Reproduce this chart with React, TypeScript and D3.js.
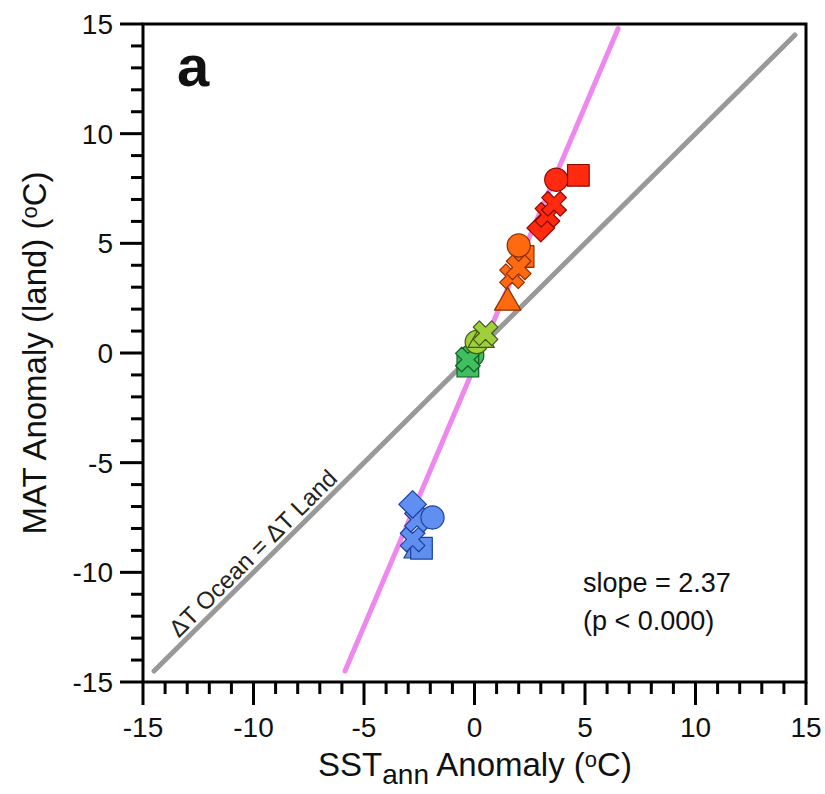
import React from "react";
import * as d3 from "d3";

// marker values: [shape, SST anomaly, MAT anomaly]
const blueCases: [string, number, number][] = [
  ["triangle", -2.6, -9.0],
  ["square", -2.4, -8.9],
  ["x", -2.8, -8.5],
  ["x", -2.6, -7.6],
  ["circle", -1.9, -7.5],
  ["diamond", -2.8, -6.9],
];
const greenCases: [string, number, number][] = [
  ["circle", -0.1, -0.1],
  ["square", -0.3, -0.6],
  ["x", -0.3, -0.3],
];
const limeCases: [string, number, number][] = [
  ["circle", 0.1, 0.5],
  ["triangle", 0.3, 0.6],
  ["x", 0.5, 0.9],
];
const orangeCases: [string, number, number][] = [
  ["triangle", 1.5, 2.3],
  ["square", 2.2, 4.4],
  ["circle", 2.0, 4.9],
  ["x", 1.7, 3.5],
  ["x", 2.0, 3.9],
];
const redCases: [string, number, number][] = [
  ["diamond", 3.0, 5.7],
  ["x", 3.3, 6.3],
  ["x", 3.6, 6.8],
  ["circle", 3.7, 7.9],
  ["square", 4.7, 8.1],
];

const groups = [
  { data: blueCases, fill: "#5f8ff0", stroke: "#1f3f9a" },
  { data: greenCases, fill: "#3fbf5f", stroke: "#145a25" },
  { data: limeCases, fill: "#9fcf3a", stroke: "#3f5a10" },
  { data: orangeCases, fill: "#ff6a10", stroke: "#8a3000" },
  { data: redCases, fill: "#ff2a10", stroke: "#8a0a00" },
];

const majorTicks = [-15, -10, -5, 0, 5, 10, 15];
const minorTicks = d3.range(-15, 16, 1);
const slope = 2.37;
const intercept = -0.61;
const oneToOne = [-14.5, 14.5];
const fitRange = [-5.86, 6.5];

const font = "'Liberation Sans', Arial, Helvetica, sans-serif";

function markerPath(shape: string) {
  if (shape === "square") return d3.symbol(d3.symbolSquare, 470)();
  if (shape === "circle") return d3.symbol(d3.symbolCircle, 420)();
  if (shape === "diamond") return d3.symbol(d3.symbolSquare, 380)();
  if (shape === "triangle") return d3.symbol(d3.symbolTriangle, 300)();
  return d3.symbol(d3.symbolCross, 380)();
}

export default function App() {
  const left = 143, right = 806, top = 24, bottom = 682;
  const x = d3.scaleLinear().domain([-15, 15]).range([left, right]);
  const y = d3.scaleLinear().domain([-15, 15]).range([bottom, top]);

  const angle = (Math.atan2(y(1) - y(0), x(1) - x(0)) * 180) / Math.PI;
  const labX = x(-13.2) - 4, labY = y(-13.2) - 4;

  return (
    <svg width={825} height={794} style={{ position: "absolute", left: 0, top: 0, background: "#fff" }} fontFamily={font}>
      {/* 1:1 line */}
      <line x1={x(oneToOne[0])} y1={y(oneToOne[0])} x2={x(oneToOne[1])} y2={y(oneToOne[1])}
        stroke="#999" strokeWidth={5} strokeLinecap="round" />
      <text x={labX} y={labY} fontSize={24} fill="#222" transform={`rotate(${angle},${labX},${labY})`}>
        ΔT Ocean = ΔT Land
      </text>
      {/* regression line */}
      <line x1={x(fitRange[0])} y1={y(slope * fitRange[0] + intercept)} x2={x(fitRange[1])} y2={y(slope * fitRange[1] + intercept)}
        stroke="#ee88ee" strokeWidth={5} strokeLinecap="round" />

      {groups.map((g, gi) =>
        g.data.map((d, i) => (
          <path key={gi + "-" + i} d={markerPath(d[0]) || ""}
            transform={`translate(${x(d[1])},${y(d[2])}) rotate(${d[0] === "diamond" || d[0] === "x" ? 45 : 0})`}
            fill={g.fill} stroke={g.stroke} strokeWidth={1.2} strokeLinejoin="round" />
        ))
      )}

      {/* frame */}
      <rect x={left} y={top} width={right - left} height={bottom - top} fill="none" stroke="#000" strokeWidth={3} />

      {minorTicks.map((t) => (
        <g key={"m" + t}>
          <line x1={x(t)} x2={x(t)} y1={bottom} y2={bottom + (t % 5 === 0 ? 23 : 12)} stroke="#000" strokeWidth={3} />
          <line y1={y(t)} y2={y(t)} x1={left} x2={left - (t % 5 === 0 ? 23 : 12)} stroke="#000" strokeWidth={3} />
        </g>
      ))}
      {majorTicks.map((t) => (
        <g key={"l" + t} fontSize={28} fill="#111">
          <text x={x(t)} y={737} textAnchor="middle">{t}</text>
          <text x={113} y={y(t) + 10} textAnchor="end">{t}</text>
        </g>
      ))}

      <text x={475} y={776} fontSize={33} textAnchor="middle" fill="#111">
        SST<tspan fontSize={28} dy={8}>ann</tspan>
        <tspan dy={-8}> Anomaly (</tspan><tspan fontSize={22} dy={-9}>o</tspan><tspan dy={9}>C)</tspan>
      </text>
      <text transform={`translate(46,${(top + bottom) / 2}) rotate(-90)`} fontSize={33} textAnchor="middle" fill="#111">
        MAT Anomaly (land) (<tspan fontSize={22} dy={-9}>o</tspan><tspan dy={9}>C)</tspan>
      </text>

      <text x={177} y={86} fontSize={58} fontWeight="bold" fill="#111">a</text>
      <text x={583} y={592} fontSize={27} fill="#111">slope = 2.37</text>
      <text x={583} y={630} fontSize={27} fill="#111">(p &lt; 0.000)</text>
    </svg>
  );
}
